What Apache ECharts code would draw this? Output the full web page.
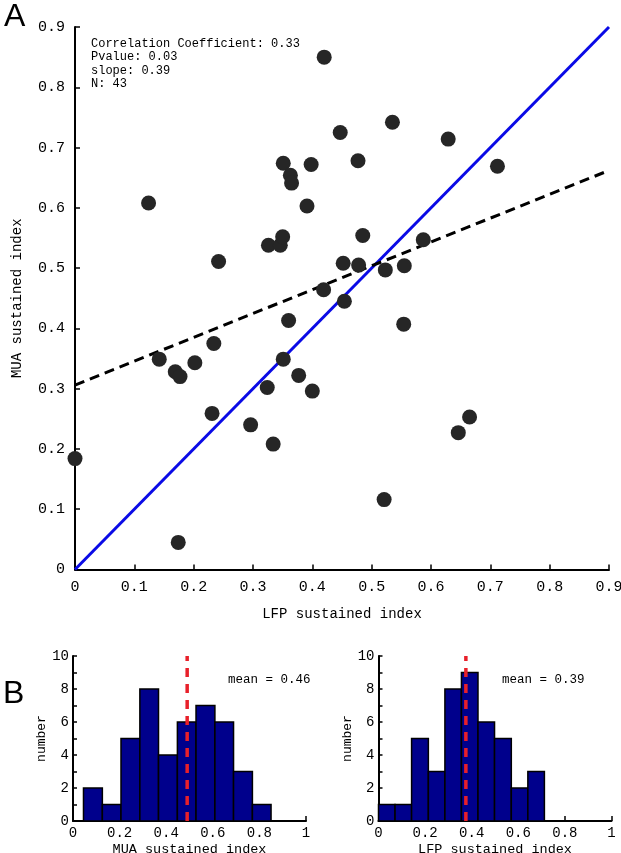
<!DOCTYPE html>
<html>
<head>
<meta charset="utf-8">
<script src="https://cdn.jsdelivr.net/npm/echarts@6/dist/echarts.min.js"></script>
<style>
  html, body { margin: 0; padding: 0; background: #fff; }
  #chart { width: 621px; height: 853px; }
</style>
</head>
<body>
<div id="chart"></div>
<script>
// scatter: LFP vs MUA sustained index, one point per site
const lfpIndex = [0.000, 0.124, 0.142, 0.169, 0.174, 0.177, 0.202, 0.231, 0.234, 0.242, 0.296,
  0.324, 0.326, 0.334, 0.346, 0.350, 0.351, 0.351, 0.360, 0.363, 0.365, 0.377, 0.391, 0.398,
  0.400, 0.419, 0.420, 0.447, 0.452, 0.454, 0.477, 0.478, 0.485, 0.521, 0.523, 0.535, 0.554,
  0.555, 0.587, 0.629, 0.646, 0.665, 0.712];
const muaIndex = [0.184, 0.608, 0.349, 0.328, 0.045, 0.320, 0.343, 0.259, 0.375, 0.511, 0.240,
  0.302, 0.538, 0.208, 0.538, 0.552, 0.674, 0.349, 0.413, 0.654, 0.641, 0.322, 0.603, 0.672,
  0.296, 0.464, 0.850, 0.725, 0.508, 0.445, 0.678, 0.505, 0.554, 0.116, 0.497, 0.742, 0.407,
  0.504, 0.547, 0.714, 0.227, 0.253, 0.669];
const unityLine = [[0, 0], [0.9, 0.9]];
const fitLine = [[0, 0.306], [0.9, 0.662]];
const statsLines = ['Correlation Coefficient: 0.33', 'Pvalue: 0.03', 'slope: 0.39', 'N: 43'];

// histograms
const muaBinEdges = [0.045, 0.126, 0.206, 0.287, 0.367, 0.448, 0.528, 0.609, 0.689, 0.770, 0.850];
const muaCounts = [2, 1, 5, 8, 4, 6, 7, 6, 3, 1];
const lfpBinEdges = [0, 0.071, 0.142, 0.214, 0.285, 0.356, 0.427, 0.498, 0.570, 0.641, 0.712];
const lfpCounts = [1, 1, 5, 3, 8, 9, 6, 5, 2, 3];
const muaMeanLine = 0.49;
const lfpMeanLine = 0.375;
const muaMeanText = 'mean = 0.46';
const lfpMeanText = 'mean = 0.39';

const MONO = "'Liberation Mono', 'DejaVu Sans Mono', monospace";

function binRows(edges, counts) {
  return counts.map((c, i) => [edges[i], edges[i + 1], c]);
}

function histItem(params, api) {
  const top = api.coord([api.value(0), api.value(2)]);
  const base = api.coord([api.value(1), 0]);
  return {
    type: 'rect',
    shape: { x: top[0], y: top[1], width: base[0] - top[0], height: base[1] - top[1] },
    style: { fill: '#00008c', stroke: '#000', lineWidth: 1.5 }
  };
}

function axisBase(extra) {
  return Object.assign({
    axisLine: { show: true, onZero: false, lineStyle: { color: '#000', width: 2 } },
    axisTick: { show: true, inside: true, length: 5, lineStyle: { color: '#000', width: 1.5 } },
    splitLine: { show: false },
    nameTextStyle: { color: '#000', fontFamily: MONO }
  }, extra);
}

const oneDec = v => (v === 0 ? '0' : v.toFixed(1));
const histX = v => (v === 0 || v === 1 ? String(v) : v.toFixed(1));

const option = {
  animation: false,
  backgroundColor: '#fff',
  grid: [
    { left: 75, width: 534, top: 27, height: 542.5, outerBoundsMode: 'none' },
    { left: 73, width: 233, top: 656, height: 165, outerBoundsMode: 'none' },
    { left: 378.5, width: 233, top: 656, height: 165, outerBoundsMode: 'none' }
  ],
  xAxis: [
    axisBase({
      gridIndex: 0, type: 'value', min: 0, max: 0.9, interval: 0.1,
      name: 'LFP sustained index', nameLocation: 'middle', nameGap: 38,
      nameTextStyle: { color: '#000', fontFamily: MONO, fontSize: 14 },
      axisLabel: { color: '#000', fontFamily: MONO, fontSize: 15, margin: 10, formatter: oneDec }
    }),
    axisBase({
      gridIndex: 1, type: 'value', min: 0, max: 1, interval: 0.2,
      name: 'MUA sustained index', nameLocation: 'middle', nameGap: 21,
      nameTextStyle: { color: '#000', fontFamily: MONO, fontSize: 13.5 },
      axisLabel: { color: '#000', fontFamily: MONO, fontSize: 14, margin: 5, formatter: histX }
    }),
    axisBase({
      gridIndex: 2, type: 'value', min: 0, max: 1, interval: 0.2,
      name: 'LFP sustained index', nameLocation: 'middle', nameGap: 21,
      nameTextStyle: { color: '#000', fontFamily: MONO, fontSize: 13.5 },
      axisLabel: { color: '#000', fontFamily: MONO, fontSize: 14, margin: 5, formatter: histX }
    })
  ],
  yAxis: [
    axisBase({
      gridIndex: 0, type: 'value', min: 0, max: 0.9, interval: 0.1,
      name: 'MUA sustained index', nameLocation: 'middle', nameGap: 51,
      nameTextStyle: { color: '#000', fontFamily: MONO, fontSize: 14 },
      axisLabel: { color: '#000', fontFamily: MONO, fontSize: 15, margin: 10, formatter: oneDec }
    }),
    axisBase({
      gridIndex: 1, type: 'value', min: 0, max: 10, interval: 1,
      name: 'number', nameLocation: 'middle', nameGap: 23,
      nameTextStyle: { color: '#000', fontFamily: MONO, fontSize: 13 },
      axisTick: { show: true, inside: true, length: 4, lineStyle: { color: '#000', width: 1.5 } },
      axisLabel: { color: '#000', fontFamily: MONO, fontSize: 14, margin: 4,
        formatter: v => (v % 2 === 0 ? String(v) : '') }
    }),
    axisBase({
      gridIndex: 2, type: 'value', min: 0, max: 10, interval: 1,
      name: 'number', nameLocation: 'middle', nameGap: 21,
      nameTextStyle: { color: '#000', fontFamily: MONO, fontSize: 13 },
      axisTick: { show: true, inside: true, length: 4, lineStyle: { color: '#000', width: 1.5 } },
      axisLabel: { color: '#000', fontFamily: MONO, fontSize: 14, margin: 4,
        formatter: v => (v % 2 === 0 ? String(v) : '') }
    })
  ],
  series: [
    {
      type: 'line', xAxisIndex: 0, yAxisIndex: 0, data: unityLine,
      symbol: 'none', lineStyle: { color: '#0a0ae6', width: 3 }, z: 3
    },
    {
      type: 'line', xAxisIndex: 0, yAxisIndex: 0, data: fitLine,
      symbol: 'none', lineStyle: { color: '#000', width: 3, type: [10, 6] }, z: 3
    },
    {
      type: 'scatter', xAxisIndex: 0, yAxisIndex: 0,
      data: lfpIndex.map((x, i) => [x, muaIndex[i]]),
      symbol: 'circle', symbolSize: 15, clip: false,
      itemStyle: { color: '#262626', opacity: 1 }, z: 4
    },
    {
      type: 'custom', xAxisIndex: 1, yAxisIndex: 1,
      data: binRows(muaBinEdges, muaCounts), renderItem: histItem, z: 2
    },
    {
      type: 'custom', xAxisIndex: 2, yAxisIndex: 2,
      data: binRows(lfpBinEdges, lfpCounts), renderItem: histItem, z: 2
    },
    {
      type: 'line', xAxisIndex: 1, yAxisIndex: 1, data: [[muaMeanLine, 0], [muaMeanLine, 10]],
      symbol: 'none', lineStyle: { color: '#e8202a', width: 3.5, type: [9, 7] }, z: 5
    },
    {
      type: 'line', xAxisIndex: 2, yAxisIndex: 2, data: [[lfpMeanLine, 0], [lfpMeanLine, 10]],
      symbol: 'none', lineStyle: { color: '#e8202a', width: 3.5, type: [9, 7] }, z: 5
    }
  ],
  graphic: [
    { type: 'text', left: 4, top: 1, style: { text: 'A', font: "32px 'Liberation Sans', Arial, sans-serif", fill: '#000' } },
    { type: 'text', left: 3, top: 678, style: { text: 'B', font: "32px 'Liberation Sans', Arial, sans-serif", fill: '#000' } },
    { type: 'text', left: 91, top: 37,
      style: { text: statsLines.join('\n'), font: '12px ' + MONO, lineHeight: 13.5, fill: '#000' } },
    { type: 'text', left: 228, top: 673, style: { text: muaMeanText, font: '12.5px ' + MONO, fill: '#000' } },
    { type: 'text', left: 502, top: 673, style: { text: lfpMeanText, font: '12.5px ' + MONO, fill: '#000' } }
  ]
};

const chart = echarts.init(document.getElementById('chart'));
chart.setOption(option);
</script>
</body>
</html>
